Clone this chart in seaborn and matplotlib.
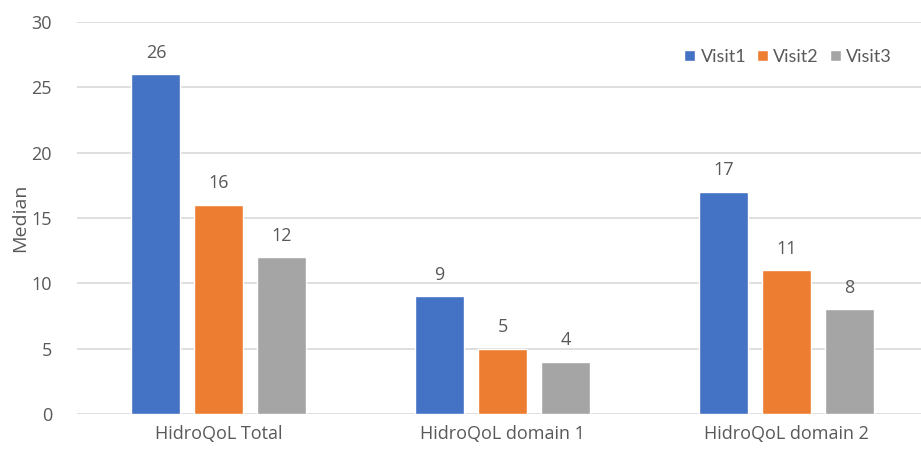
import matplotlib
matplotlib.use("Agg")
import matplotlib.pyplot as plt
import seaborn as sns
import pandas as pd

categories = ["HidroQoL Total", "HidroQoL domain 1", "HidroQoL domain 2"]
visits = ["Visit1", "Visit2", "Visit3"]
visit1 = [26, 9, 17]
visit2 = [16, 5, 11]
visit3 = [12, 4, 8]
yticks = [0, 5, 10, 15, 20, 25, 30]

rows = []
for v, vals in zip(visits, [visit1, visit2, visit3]):
    for c, val in zip(categories, vals):
        rows.append({"category": c, "visit": v, "value": val})
df = pd.DataFrame(rows)

sns.set_theme(style="white")
plt.rcParams["font.family"] = ["Open Sans", "DejaVu Sans"]
text_color = "#595959"

fig = plt.figure(figsize=(9.21, 4.49), dpi=100)
ax = fig.add_axes([77 / 921, 1 - 414 / 449, (928 - 77) / 921, (414 - 22) / 449])

palette = ["#4472C4", "#ED7D31", "#A5A5A5"]
sns.barplot(data=df, x="category", y="value", hue="visit", order=categories,
            hue_order=visits, palette=palette, width=0.665, gap=0.22,
            saturation=1, ax=ax, zorder=3, errorbar=None)

for cont in ax.containers:
    ax.bar_label(cont, fmt="%g", padding=9, fontsize=13, color=text_color)

ax.set_ylim(0, 30)
ax.set_xlim(-0.5, 2.5)
ax.set_yticks(yticks)
ax.set_yticklabels([str(t) for t in yticks])
ax.yaxis.grid(True, color="#D9D9D9", linewidth=1.2, zorder=0)
ax.set_axisbelow(True)
for s in ax.spines.values():
    s.set_visible(False)
ax.tick_params(axis="both", length=0, labelsize=13, colors=text_color)
ax.tick_params(axis="y", pad=18)
ax.tick_params(axis="x", pad=8)
ax.set_xlabel("")
ax.set_ylabel("Median", fontsize=14, color=text_color, labelpad=2)

handles, labels = ax.get_legend_handles_labels()
ax.legend(handles, labels, loc="center right", bbox_to_anchor=(899 / 921, 1 - 57 / 449),
          bbox_transform=fig.transFigure, ncol=3, frameon=False,
          handlelength=0.6, handleheight=0.6, handletextpad=0.3,
          columnspacing=0.6, borderaxespad=0, prop={"family": ["Lato", "DejaVu Sans"], "size": 13},
          labelcolor=text_color)

fig.savefig("out.png", dpi=100)
